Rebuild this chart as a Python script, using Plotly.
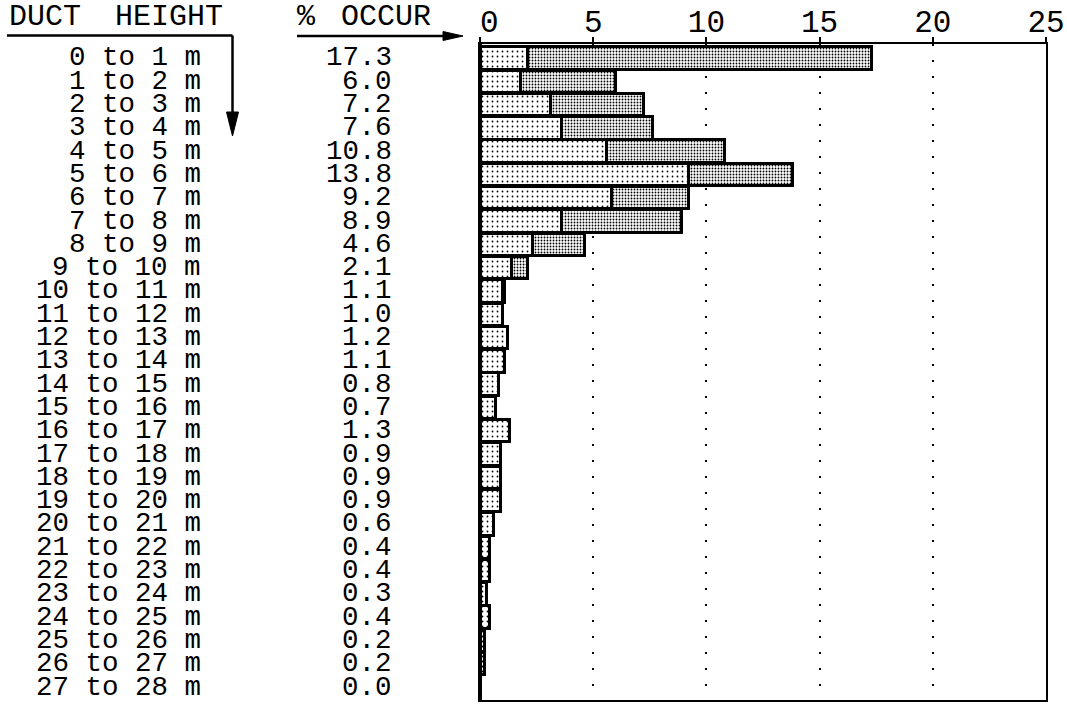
import plotly.graph_objects as go

# ---------------- data ----------------
duct_height_labels = [
    "0 to 1 m", "1 to 2 m", "2 to 3 m", "3 to 4 m", "4 to 5 m", "5 to 6 m",
    "6 to 7 m", "7 to 8 m", "8 to 9 m", "9 to 10 m", "10 to 11 m", "11 to 12 m",
    "12 to 13 m", "13 to 14 m", "14 to 15 m", "15 to 16 m", "16 to 17 m",
    "17 to 18 m", "18 to 19 m", "19 to 20 m", "20 to 21 m", "21 to 22 m",
    "22 to 23 m", "23 to 24 m", "24 to 25 m", "25 to 26 m", "26 to 27 m",
    "27 to 28 m",
]
pct_occur = [17.3, 6.0, 7.2, 7.6, 10.8, 13.8, 9.2, 8.9, 4.6, 2.1, 1.1, 1.0,
             1.2, 1.1, 0.8, 0.7, 1.3, 0.9, 0.9, 0.9, 0.6, 0.4, 0.4, 0.3,
             0.4, 0.2, 0.2, 0.0]
# lighter (first) segment of each bar
lower_part = [2.1, 1.8, 3.1, 3.6, 5.6, 9.2, 5.8, 3.6, 2.3, 1.4, 1.0, 1.0,
              1.2, 1.1, 0.8, 0.7, 1.3, 0.9, 0.9, 0.9, 0.6, 0.4, 0.4, 0.3,
              0.4, 0.2, 0.2, 0.0]
x_ticks = [0, 5, 10, 15, 20, 25]
x_tick_text = ["\u00a00", "5", "10", "15", "20", "25"]

# ---------------- layout geometry ----------------
W, H = 1067, 704
L, R, T, B = 480, 21, 44, 4
PW, PH = W - L - R, H - T - B


def px(x):
    return (x - L) / PW


def py(y):
    return (H - B - y) / PH


FONT = "Liberation Mono"
rows = list(range(len(duct_height_labels)))
lower_vals = [v if v > 0 else None for v in lower_part]
upper_vals = [round(t - l, 2) if t - l > 0.001 else None
              for t, l in zip(pct_occur, lower_part)]

fig = go.Figure()
fig.add_trace(go.Bar(
    y=rows, x=lower_vals, orientation="h",
    marker=dict(color="white", line=dict(color="black", width=3),
                pattern=dict(shape=".", fgcolor="black", bgcolor="white",
                             size=5, solidity=0.1, fillmode="replace")),
    showlegend=False, hoverinfo="skip",
))
fig.add_trace(go.Bar(
    y=rows, x=upper_vals, orientation="h",
    marker=dict(color="white", line=dict(color="black", width=3),
                pattern=dict(shape=".", fgcolor="black", bgcolor="white",
                             size=3, solidity=0.3, fillmode="replace")),
    showlegend=False, hoverinfo="skip",
))

annotations = []
for i, (lab, v) in enumerate(zip(duct_height_labels, pct_occur)):
    annotations.append(dict(
        x=px(203), y=i, xref="paper", yref="y", text=lab, showarrow=False,
        xanchor="right", yanchor="middle", height=23,
        font=dict(family=FONT, size=27.5, color="black")))
    annotations.append(dict(
        x=px(394), y=i, xref="paper", yref="y", text=f"{v:.1f}",
        showarrow=False, xanchor="right", yanchor="middle", height=23,
        font=dict(family=FONT, size=27.5, color="black")))

header_font = dict(family=FONT, size=30, color="black")
header_y = py(17)
annotations += [
    dict(x=px(7), y=header_y, xref="paper", yref="paper", text="DUCT",
         showarrow=False, xanchor="left", yanchor="middle", font=header_font),
    dict(x=px(225), y=header_y, xref="paper", yref="paper", text="HEIGHT",
         showarrow=False, xanchor="right", yanchor="middle", font=header_font),
    dict(x=px(295), y=header_y, xref="paper", yref="paper", text="%",
         showarrow=False, xanchor="left", yanchor="middle", font=header_font),
    dict(x=px(433), y=header_y, xref="paper", yref="paper", text="OCCUR",
         showarrow=False, xanchor="right", yanchor="middle", font=header_font),
]

line_style = dict(color="black", width=2.5)
shapes = [
    dict(type="line", xref="paper", yref="paper", x0=px(7), y0=py(35.5),
         x1=px(232.5), y1=py(35.5), line=line_style),
    dict(type="line", xref="paper", yref="paper", x0=px(232.5), y0=py(35.5),
         x1=px(232.5), y1=py(118), line=line_style),
    dict(type="path", xref="paper", yref="paper",
         path=(f"M {px(226.5)},{py(112)} L {px(238.5)},{py(112)} "
               f"L {px(232.5)},{py(136)} Z"),
         fillcolor="black", line=dict(color="black", width=1)),
    dict(type="line", xref="paper", yref="paper", x0=px(297), y0=py(36),
         x1=px(446), y1=py(36), line=line_style),
    dict(type="path", xref="paper", yref="paper",
         path=(f"M {px(443)},{py(31.5)} L {px(443)},{py(40.5)} "
               f"L {px(463)},{py(36)} Z"),
         fillcolor="black", line=dict(color="black", width=1)),
    # heavier left frame edge
    dict(type="line", xref="paper", yref="paper", x0=0, y0=0, x1=0, y1=1,
         line=dict(color="black", width=4)),
]

fig.update_layout(
    width=W, height=H, margin=dict(l=L, r=R, t=T, b=B, autoexpand=False),
    paper_bgcolor="white", plot_bgcolor="white",
    barmode="stack", bargap=0.04,
    showlegend=False,
    annotations=annotations, shapes=shapes,
    xaxis=dict(
        side="top", range=[0, 25], tickvals=x_ticks, ticktext=x_tick_text,
        tickfont=dict(family=FONT, size=31, color="black"),
        ticks="outside", ticklen=5, tickwidth=2, tickcolor="black",
        ticklabelstandoff=-7,
        showline=True, linecolor="black", linewidth=2, mirror=True,
        showgrid=True, gridcolor="black", gridwidth=2,
        griddash="2px,14px", zeroline=False, fixedrange=True,
    ),
    yaxis=dict(
        range=[27.555, -0.6], showticklabels=False, ticks="",
        showline=True, linecolor="black", linewidth=2, mirror=True,
        showgrid=False, zeroline=False, fixedrange=True,
    ),
)

fig.write_html(
    "out.html",
    config={"displayModeBar": False, "staticPlot": True},
    post_script="document.body.style.margin='0';document.body.style.overflow='hidden';",
)
